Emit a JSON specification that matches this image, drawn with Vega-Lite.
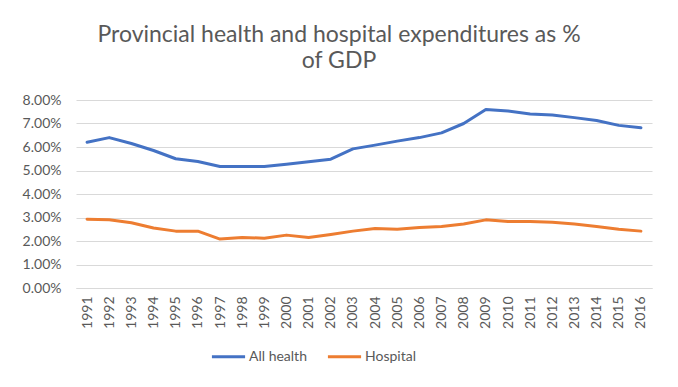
{
  "$schema": "https://vega.github.io/schema/vega-lite/v6.json",
  "width": 576,
  "height": 188,
  "autosize": {"type": "none"},
  "padding": {"left": 76, "top": 100, "right": 26, "bottom": 99},
  "background": "white",
  "title": {
    "text": ["Provincial health and hospital expenditures as %", "of GDP"],
    "font": "Lato",
    "fontSize": 23,
    "fontWeight": "normal",
    "color": "#595959",
    "anchor": "middle",
    "dx": -25,
    "offset": 20,
    "lineHeight": 26
  },
  "data": {
    "values": [
      {"year": "1991", "series": "All health", "value": 0.0620},
      {"year": "1992", "series": "All health", "value": 0.0640},
      {"year": "1993", "series": "All health", "value": 0.0615},
      {"year": "1994", "series": "All health", "value": 0.0585},
      {"year": "1995", "series": "All health", "value": 0.0550},
      {"year": "1996", "series": "All health", "value": 0.0538},
      {"year": "1997", "series": "All health", "value": 0.0517},
      {"year": "1998", "series": "All health", "value": 0.0517},
      {"year": "1999", "series": "All health", "value": 0.0517},
      {"year": "2000", "series": "All health", "value": 0.0527},
      {"year": "2001", "series": "All health", "value": 0.0537},
      {"year": "2002", "series": "All health", "value": 0.0548},
      {"year": "2003", "series": "All health", "value": 0.0592},
      {"year": "2004", "series": "All health", "value": 0.0608},
      {"year": "2005", "series": "All health", "value": 0.0625},
      {"year": "2006", "series": "All health", "value": 0.0640},
      {"year": "2007", "series": "All health", "value": 0.0660},
      {"year": "2008", "series": "All health", "value": 0.0700},
      {"year": "2009", "series": "All health", "value": 0.0760},
      {"year": "2010", "series": "All health", "value": 0.0753},
      {"year": "2011", "series": "All health", "value": 0.0740},
      {"year": "2012", "series": "All health", "value": 0.0736},
      {"year": "2013", "series": "All health", "value": 0.0725},
      {"year": "2014", "series": "All health", "value": 0.0713},
      {"year": "2015", "series": "All health", "value": 0.0692},
      {"year": "2016", "series": "All health", "value": 0.0682},
      {"year": "1991", "series": "Hospital", "value": 0.0293},
      {"year": "1992", "series": "Hospital", "value": 0.0290},
      {"year": "1993", "series": "Hospital", "value": 0.0278},
      {"year": "1994", "series": "Hospital", "value": 0.0255},
      {"year": "1995", "series": "Hospital", "value": 0.0242},
      {"year": "1996", "series": "Hospital", "value": 0.0242},
      {"year": "1997", "series": "Hospital", "value": 0.0208},
      {"year": "1998", "series": "Hospital", "value": 0.0215},
      {"year": "1999", "series": "Hospital", "value": 0.0212},
      {"year": "2000", "series": "Hospital", "value": 0.0225},
      {"year": "2001", "series": "Hospital", "value": 0.0215},
      {"year": "2002", "series": "Hospital", "value": 0.0228},
      {"year": "2003", "series": "Hospital", "value": 0.0242},
      {"year": "2004", "series": "Hospital", "value": 0.0253},
      {"year": "2005", "series": "Hospital", "value": 0.0250},
      {"year": "2006", "series": "Hospital", "value": 0.0257},
      {"year": "2007", "series": "Hospital", "value": 0.0262},
      {"year": "2008", "series": "Hospital", "value": 0.0272},
      {"year": "2009", "series": "Hospital", "value": 0.0290},
      {"year": "2010", "series": "Hospital", "value": 0.0283},
      {"year": "2011", "series": "Hospital", "value": 0.0283},
      {"year": "2012", "series": "Hospital", "value": 0.0280},
      {"year": "2013", "series": "Hospital", "value": 0.0272},
      {"year": "2014", "series": "Hospital", "value": 0.0262},
      {"year": "2015", "series": "Hospital", "value": 0.0250},
      {"year": "2016", "series": "Hospital", "value": 0.0242}
    ]
  },
  "mark": {"type": "line", "strokeWidth": 3, "strokeCap": "round", "strokeJoin": "round"},
  "encoding": {
    "x": {
      "field": "year",
      "type": "ordinal",
      "scale": {"type": "point", "padding": 0.5},
      "axis": {
        "title": null,
        "labelAngle": -90,
        "labelFont": "Lato",
        "labelFontSize": 14,
        "labelColor": "#595959",
        "labelPadding": 8,
        "ticks": false,
        "domainColor": "#d9d9d9",
        "domainWidth": 1,
        "grid": false
      }
    },
    "y": {
      "field": "value",
      "type": "quantitative",
      "scale": {"domain": [0, 0.08], "nice": false},
      "axis": {
        "title": null,
        "format": ".2%",
        "values": [0, 0.01, 0.02, 0.03, 0.04, 0.05, 0.06, 0.07, 0.08],
        "labelFont": "Lato",
        "labelFontSize": 14,
        "labelColor": "#595959",
        "labelPadding": 15,
        "ticks": false,
        "domain": false,
        "gridColor": "#d9d9d9",
        "gridWidth": 1
      }
    },
    "color": {
      "field": "series",
      "type": "nominal",
      "scale": {"domain": ["All health", "Hospital"], "range": ["#4472C4", "#ED7D31"]},
      "legend": {
        "title": null,
        "orient": "none",
        "legendX": 134,
        "legendY": 238,
        "direction": "horizontal",
        "symbolType": "stroke",
        "symbolSize": 1100,
        "symbolStrokeWidth": 3,
        "labelFont": "Lato",
        "labelFontSize": 14,
        "labelColor": "#595959",
        "columnPadding": 14,
        "labelOffset": 2
      }
    }
  },
  "config": {"view": {"stroke": null}}
}
